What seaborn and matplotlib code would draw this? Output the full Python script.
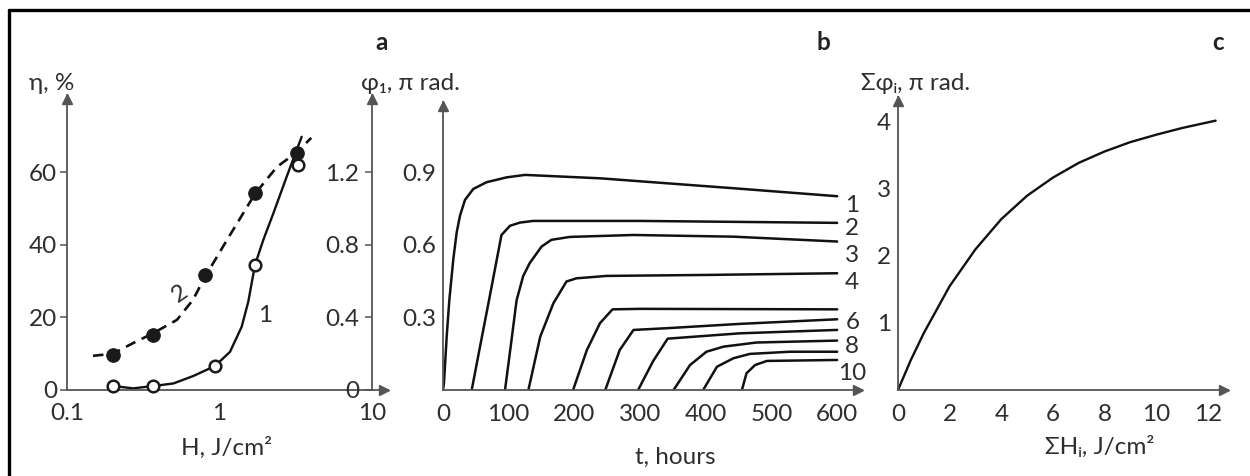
import matplotlib
matplotlib.use('Agg')
import matplotlib.pyplot as plt
import matplotlib.transforms as mtransforms
from matplotlib.lines import Line2D
import seaborn as sns

# ---------------- data: panel a ----------------
a_H_filled = [0.20, 0.366, 0.80, 1.71, 3.21]
a_eta_filled = [9.6, 15.2, 31.7, 54.3, 65.1]
a_H_open = [0.20, 0.366, 0.93, 1.71, 3.29]
a_eta_open = [1.1, 1.1, 6.6, 34.4, 61.9]
a_curve1_H = [0.20, 0.272, 0.368, 0.498, 0.673, 0.934, 1.172, 1.398, 1.545, 1.709, 1.938, 2.254, 2.758, 3.459]
a_curve1_eta = [1.1, 0.45, 1.1, 1.8, 3.85, 6.6, 10.5, 17.4, 24.3, 34.4, 41.3, 48.6, 58.7, 69.7]
a_curve2_H = [0.148, 0.20, 0.271, 0.366, 0.526, 0.67, 0.80, 1.12, 1.71, 2.38, 3.22, 4.0]
a_curve2_eta = [9.4, 10.0, 12.9, 15.6, 19.3, 24.8, 31.0, 41.3, 54.0, 61.4, 65.5, 69.4]
a_xticks = [0.1, 1, 10]
a_xticklabels = ['0.1', '1', '10']
a_yticks = [0, 20, 40, 60]
a_phi_ticks = [0, 0.4, 0.8, 1.2]
a_phi_ticklabels = ['0', '0.4', '0.8', '1.2']

# ---------------- data: panel b ----------------
b_t1 = [0, 1.5, 5.6, 9.6, 15.7, 20.8, 25.9, 33.5, 46.1, 66.5, 97, 125, 239, 442, 600]
b_p1 = [0, 0.03, 0.22, 0.37, 0.54, 0.65, 0.72, 0.785, 0.83, 0.858, 0.878, 0.888, 0.874, 0.833, 0.80]
b_t2 = [43.7, 55, 70, 89, 102, 117, 137, 300, 600]
b_p2 = [0, 0.16, 0.37, 0.64, 0.678, 0.691, 0.698, 0.698, 0.69]
b_t3 = [94.4, 104, 112, 122, 132, 150, 165, 193, 290, 442, 600]
b_p3 = [0, 0.20, 0.37, 0.47, 0.524, 0.592, 0.62, 0.632, 0.64, 0.633, 0.613]
b_t4 = [130, 139, 148, 168, 188, 203, 249, 400, 600]
b_p4 = [0, 0.11, 0.22, 0.358, 0.448, 0.461, 0.471, 0.475, 0.482]
b_t5 = [198, 219, 239, 258, 300, 600]
b_p5 = [0, 0.165, 0.276, 0.333, 0.335, 0.333]
b_t6 = [247, 269, 290, 340, 452, 600]
b_p6 = [0, 0.165, 0.248, 0.255, 0.273, 0.292]
b_t7 = [297, 320, 342, 452, 600]
b_p7 = [0, 0.12, 0.212, 0.234, 0.248]
b_t8 = [351, 376, 401, 427, 477, 600]
b_p8 = [0, 0.103, 0.158, 0.179, 0.196, 0.204]
b_t9 = [396, 417, 442, 467, 528, 600]
b_p9 = [0, 0.096, 0.131, 0.149, 0.158, 0.158]
b_t10 = [455, 462, 475, 493, 600]
b_p10 = [0, 0.069, 0.103, 0.12, 0.124]
b_curve_labels = ['1', '2', '3', '4', '6', '8', '10']
b_label_y = [0.76, 0.665, 0.555, 0.445, 0.28, 0.178, 0.07]
b_xticks = [0, 100, 200, 300, 400, 500, 600]
b_yticks = [0.3, 0.6, 0.9]

# ---------------- data: panel c ----------------
c_H = [0, 0.5, 1, 2, 3, 4, 5, 6, 7, 8, 9, 10, 11, 12.3]
c_phi = [0, 0.45, 0.85, 1.55, 2.1, 2.55, 2.9, 3.17, 3.39, 3.56, 3.70, 3.81, 3.91, 4.02]
c_xticks = [0, 2, 4, 6, 8, 10, 12]
c_yticks = [1, 2, 3, 4]

# ---------------- style ----------------
sns.set_style('white')
plt.rcParams['font.family'] = ['Lato', 'Noto Sans', 'DejaVu Sans']
W, H = 1250, 476
FS = 17.5
AXC = '#555555'
TXC = '#2e2e2e'

fig = plt.figure(figsize=(W / 100, H / 100), dpi=100)
fig.patch.set_facecolor('white')


def box(l, r, t, b=390):
    return [l / W, (H - b) / H, (r - l) / W, (b - t) / H]


def fpos(x, y):
    return x / W, 1 - y / H


def style_axes(ax):
    ax.set_facecolor('none')
    for s in ['top', 'right']:
        ax.spines[s].set_visible(False)
    for s in ['left', 'bottom']:
        ax.spines[s].set_color(AXC)
        ax.spines[s].set_linewidth(1.3)
    tr_right = mtransforms.offset_copy(ax.transAxes, fig=fig, x=-4, y=0, units='dots')
    tr_up = mtransforms.offset_copy(ax.transAxes, fig=fig, x=0, y=-4, units='dots')
    ax.plot([1], [0], marker='>', ms=7, color=AXC, transform=tr_right, clip_on=False)
    ax.plot([0], [1], marker='^', ms=7, color=AXC, transform=tr_up, clip_on=False)
    ax.tick_params(colors=AXC, labelcolor=TXC, labelsize=FS, width=1.1, length=5)


# ---------------- panel a ----------------
axa = fig.add_axes(box(67, 388, 95))
style_axes(axa)
axa.set_xscale('log')
axa.set_xlim(0.1, 12.74)
axa.set_ylim(0, 81.2)
sns.lineplot(x=a_curve1_H, y=a_curve1_eta, ax=axa, color='#111111', lw=1.7, estimator=None)
sns.lineplot(x=a_curve2_H, y=a_curve2_eta, ax=axa, color='#111111', lw=1.9, estimator=None,
             dashes=False, linestyle=(0, (4, 2.6)))
sns.scatterplot(x=a_H_filled, y=a_eta_filled, ax=axa, s=95, color='#1a1a1a',
                edgecolor='#1a1a1a', zorder=4, clip_on=False)
sns.scatterplot(x=a_H_open, y=a_eta_open, ax=axa, s=70, color='white',
                edgecolor='#1a1a1a', linewidth=1.8, zorder=4, clip_on=False)
axa.set_xticks(a_xticks)
axa.set_xticklabels(a_xticklabels)
axa.minorticks_off()
axa.set_yticks(a_yticks)
axa.tick_params(axis='x', direction='in', pad=9)
axa.tick_params(axis='y', direction='out', pad=2)
axa.set_xlabel('H, J/cm²', fontsize=FS, color=TXC, va='center')
axa.xaxis.set_label_coords(0.498, -0.197)
axa.text(0.55, 26.5, '2', fontsize=FS, color=TXC, rotation=35, ha='center', va='center')
axa.text(1.99, 20.6, '1', fontsize=FS, color=TXC, ha='center', va='center')

axa2 = axa.twinx()
axa2.set_facecolor('none')
axa2.set_ylim(0, 81.2 / 50)
for s in ['top', 'right', 'bottom']:
    axa2.spines[s].set_visible(False)
axa2.spines['left'].set_position(('data', 10))
axa2.spines['left'].set_color(AXC)
axa2.spines['left'].set_linewidth(1.3)
axa2.yaxis.set_ticks_position('left')
axa2.set_yticks(a_phi_ticks)
axa2.set_yticklabels(a_phi_ticklabels)
axa2.tick_params(axis='y', direction='out', colors=AXC, labelcolor=TXC, labelsize=FS,
                 width=1.1, length=5, pad=4)
trans = mtransforms.blended_transform_factory(axa.transData, axa.transAxes)
trans = mtransforms.offset_copy(trans, fig=fig, x=0, y=-4, units='dots')
axa.plot([10], [1], marker='^', ms=7, color=AXC, transform=trans, clip_on=False)

# ---------------- panel b ----------------
axb = fig.add_axes(box(443, 862, 102))
style_axes(axb)
axb.set_xlim(0, 637.8)
axb.set_ylim(0, 1.189)
for tt, pp in [(b_t1, b_p1), (b_t2, b_p2), (b_t3, b_p3), (b_t4, b_p4), (b_t5, b_p5),
               (b_t6, b_p6), (b_t7, b_p7), (b_t8, b_p8), (b_t9, b_p9), (b_t10, b_p10)]:
    sns.lineplot(x=tt, y=pp, ax=axb, color='#111111', lw=1.8, estimator=None)
for lab, yy in zip(b_curve_labels, b_label_y):
    axb.text(623, yy, lab, fontsize=FS, color=TXC, ha='center', va='center')
axb.set_xticks(b_xticks)
axb.set_yticks(b_yticks)
axb.tick_params(axis='x', direction='in', pad=10)
axb.tick_params(axis='y', direction='in', pad=5)
axb.set_xlabel('t, hours', fontsize=FS, color=TXC, va='center')
axb.xaxis.set_label_coords(0.554, -0.233)

# ---------------- panel c ----------------
axc = fig.add_axes(box(898, 1228, 97))
style_axes(axc)
axc.set_xlim(0, 12.78)
axc.set_ylim(0, 4.373)
sns.lineplot(x=c_H, y=c_phi, ax=axc, color='#111111', lw=1.7, estimator=None)
axc.set_xticks(c_xticks)
axc.set_yticks(c_yticks)
axc.tick_params(axis='x', direction='in', pad=10)
axc.tick_params(axis='y', direction='in', pad=5)
axc.set_xlabel('ΣHᵢ, J/cm²', fontsize=FS, color=TXC, va='center')
axc.xaxis.set_label_coords(0.612, -0.195)

# ---------------- titles / axis names ----------------
fig.text(*fpos(52, 84), 'η, %', fontsize=FS, color=TXC, ha='center', va='center')
fig.text(*fpos(410, 84), 'φ₁, π rad.', fontsize=FS, color=TXC, ha='center', va='center')
fig.text(*fpos(916, 84), 'Σφᵢ, π rad.', fontsize=FS, color=TXC, ha='center', va='center')
fig.text(*fpos(382, 43), 'a', fontsize=FS, color='#222222', fontweight='bold', ha='center', va='center')
fig.text(*fpos(823, 43), 'b', fontsize=FS, color='#222222', fontweight='bold', ha='center', va='center')
fig.text(*fpos(1218, 43), 'c', fontsize=FS, color='#222222', fontweight='bold', ha='center', va='center')

# frame (top and left edges visible)
fig.add_artist(Line2D([9 / W, 1.0], [1 - 10 / H, 1 - 10 / H], transform=fig.transFigure, color='black', lw=2.4))
fig.add_artist(Line2D([9 / W, 9 / W], [0, 1 - 10 / H], transform=fig.transFigure, color='black', lw=2.4))

fig.savefig('out.png', dpi=100, facecolor='white')
